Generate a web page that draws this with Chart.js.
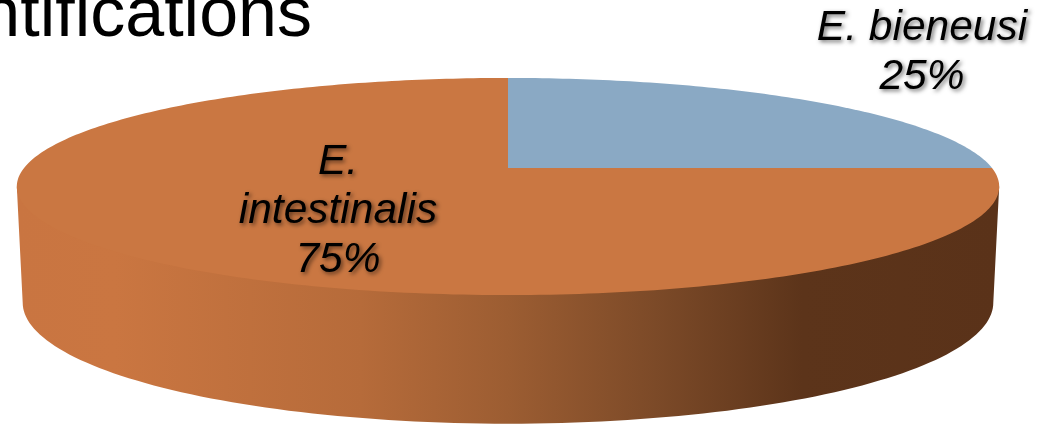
<!DOCTYPE html>
<html>
<head>
<meta charset="utf-8">
<title>Identifications</title>
<script src="https://cdn.jsdelivr.net/npm/chart.js@4"></script>
<style>
    html, body { margin: 0; padding: 0; background: #fff; overflow: hidden; }
    canvas { display: block; }
</style>
</head>
<body>
<canvas id="pieChart" width="1043" height="426"></canvas>
<script>
// Chart data
const categories = ['E. bieneusi', 'E. intestinalis'];
const shares = [25, 75];
const sliceColors = ['#8AA9C4', '#CA7742'];
const titleText = 'ntifications';

// label lines, the second one wraps like the original
const labelLines = [['E. bieneusi'], ['E.', 'intestinalis']];
const labelSpots = [[922, 40], [338, 174]];

const FONT = '"Liberation Sans", Arial, sans-serif';

// fake 3D: the flat pie from Chart.js gets pushed through a perspective squash
const SQUASH_X = 484 / 168;
const SQUASH_Y = 105.4 / 168;
const TILT = 0.1705;
const BASE_X = 0.988;       // floor of the pie is slightly narrower
const BASE_Y = 1.115;
const BASE_DROP = 114;

function project(arc, angle, floor) {
    const u = Math.cos(angle), v = Math.sin(angle);
    const w = 1 - TILT * v;
    const r = arc.outerRadius;
    const sx = floor ? SQUASH_X * BASE_X : SQUASH_X;
    const sy = floor ? SQUASH_Y * BASE_Y : SQUASH_Y;
    return {
        x: arc.x + r * sx * u / w,
        y: arc.y + (floor ? BASE_DROP : 0) + r * sy * v / w
    };
}

function drawWall(ctx, arc) {
    const start = Math.asin(TILT);
    const end = Math.PI - start;
    const steps = 120;
    // top edge is just a chord, the top face covers it (no seam from antialiasing)
    const right = project(arc, start, false);
    const left = project(arc, end, false);
    ctx.beginPath();
    ctx.moveTo(right.x, right.y);
    ctx.lineTo(left.x, left.y);
    for (let i = steps; i >= 0; i--) {
        const p = project(arc, start + (end - start) * i / steps, true);
        ctx.lineTo(p.x, p.y);
    }
    ctx.closePath();
    const grad = ctx.createLinearGradient(17, 0, 999, 0);
    grad.addColorStop(0, '#C97541');
    grad.addColorStop(0.1, '#CA7641');
    grad.addColorStop(0.35, '#B66B3A');
    grad.addColorStop(0.5, '#9C5D32');
    grad.addColorStop(0.65, '#7C4A28');
    grad.addColorStop(0.8, '#5C341A');
    grad.addColorStop(1, '#5A3219');
    ctx.fillStyle = grad;
    ctx.fill();
}

function drawSlice(ctx, arc) {
    const { startAngle, endAngle } = arc.getProps(['startAngle', 'endAngle'], true);
    const steps = Math.ceil((endAngle - startAngle) * 60);
    ctx.beginPath();
    ctx.moveTo(arc.x, arc.y);
    for (let i = 0; i <= steps; i++) {
        const p = project(arc, startAngle + (endAngle - startAngle) * i / steps, false);
        ctx.lineTo(p.x, p.y);
    }
    ctx.closePath();
    ctx.fillStyle = arc.options.backgroundColor;
    ctx.fill();
}

const pie3d = {
    id: 'pie3d',
    beforeDatasetDraw(chart, args) {
        const ctx = chart.ctx;
        const arcs = chart.getDatasetMeta(args.index).data;
        drawWall(ctx, arcs[0]);
        // orange first so the blue edge stays crisp
        arcs.slice().reverse().forEach(arc => drawSlice(ctx, arc));
        return false;
    },
    afterDraw(chart) {
        const ctx = chart.ctx;
        ctx.save();
        ctx.fillStyle = '#000';
        ctx.textBaseline = 'alphabetic';

        ctx.font = '70px ' + FONT;
        ctx.textAlign = 'right';
        ctx.fillText(titleText, 312, 36);

        ctx.font = 'italic 42.5px ' + FONT;
        ctx.textAlign = 'center';
        ctx.shadowColor = 'rgba(0, 0, 0, 0.55)';
        ctx.shadowBlur = 4;
        ctx.shadowOffsetX = 2;
        ctx.shadowOffsetY = 2;
        shares.forEach((share, i) => {
            const lines = labelLines[i].concat(share + '%');
            lines.forEach((line, n) => {
                ctx.fillText(line, labelSpots[i][0], labelSpots[i][1] + n * 49);
            });
        });
        ctx.restore();
    }
};

new Chart(document.getElementById('pieChart'), {
    type: 'pie',
    data: {
        labels: categories,
        datasets: [{
            data: shares,
            backgroundColor: sliceColors,
            borderWidth: 0
        }]
    },
    options: {
        responsive: false,
        animation: false,
        layout: { padding: { left: 0, top: 0, right: 27, bottom: 90 } },
        plugins: {
            legend: { display: false },
            tooltip: { enabled: false }
        }
    },
    plugins: [pie3d]
});
</script>
</body>
</html>
